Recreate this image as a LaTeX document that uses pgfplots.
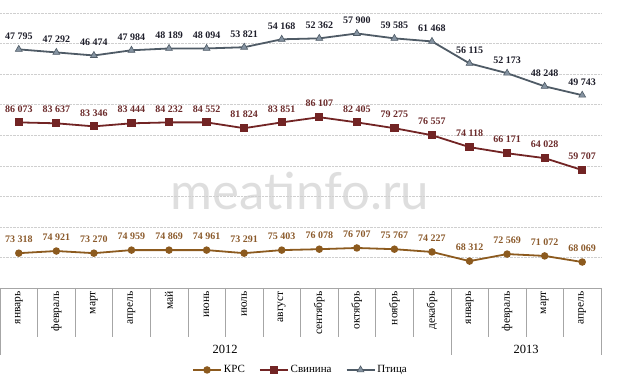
\documentclass[border=0pt]{standalone}
\usepackage{fontspec}
\setmainfont{Liberation Serif}
\newfontfamily\wmfont{Lato}
\usepackage{pgfplots}
\pgfplotsset{compat=1.18}
\definecolor{ptc}{HTML}{4F5B66}
\definecolor{ptm}{HTML}{8593A1}
\definecolor{ptl}{HTML}{1E1E2A}
\definecolor{svc}{HTML}{722424}
\definecolor{svl}{HTML}{6B2A2A}
\definecolor{krc}{HTML}{8C5A1E}
\definecolor{krl}{HTML}{8B5A2B}
\definecolor{gridc}{HTML}{CFCFCF}
\definecolor{sepc}{HTML}{A6A6A6}
\begin{document}
\begin{tikzpicture}[x=1pt,y=1pt]
\useasboundingbox (0,0) rectangle (621,387);
\node[text=black!13, font=\wmfont\fontsize{51}{51}\selectfont] at (300,196) {meatinfo.ru};
\begin{axis}[
  at={(0pt,99pt)}, anchor=south west,
  scale only axis, width=601pt, height=275pt,
  xmin=-0.5, xmax=15.5, ymin=0, ymax=90,
  clip=false,
  axis x line*=bottom, axis y line*=left,
  x axis line style={sepc},
  y axis line style={draw=none},
  xtick={0,...,15},
  xticklabels={январь,февраль,март,апрель,май,июнь,июль,август,сентябрь,октябрь,ноябрь,декабрь,январь,февраль,март,апрель},
  xtick style={draw=none},
  xticklabel style={yshift=-2pt, rotate=90, anchor=east, font=\fontsize{11.5}{13}\selectfont, inner sep=1pt},
  ytick={10,20,...,90}, yticklabels={}, ytick style={draw=none},
  ymajorgrids, grid style={densely dotted, gridc},
  nodes near coords, point meta=explicit symbolic,
  every node near coord/.append style={font=\bfseries\fontsize{10}{12}\selectfont, anchor=south, yshift=6pt},
  legend style={at={(0.5,-0.298)}, anchor=center, draw=none, legend columns=3,
    font=\fontsize{11}{12}\selectfont, inner sep=1pt,
    /tikz/every even column/.append style={column sep=12pt}},
  legend image code/.code={\draw[mark repeat=2,mark phase=2] plot coordinates {(0pt,0pt) (14pt,0pt) (28pt,0pt)};},
]
\addplot[krc, line width=1.8pt, mark=*, mark size=2.8pt, mark options={fill=krc, draw=krc},
  every node near coord/.append style={text=krl}]
  table[col sep=comma, row sep=\\, x=x, y=y, meta=lab] {
x,y,lab\\
0,11.4,73 318\\
1,12.1,74 921\\
2,11.4,73 270\\
3,12.4,74 959\\
4,12.4,74 869\\
5,12.4,74 961\\
6,11.4,73 291\\
7,12.4,75 403\\
8,12.7,76 078\\
9,13.1,76 707\\
10,12.7,75 767\\
11,11.8,74 227\\
12,8.8,68 312\\
13,11.1,72 569\\
14,10.5,71 072\\
15,8.5,68 069\\
};
\addlegendentry{КРС}
\addplot[svc, line width=1.8pt, mark=square*, mark size=3.2pt, mark options={fill=svc, draw=svc},
  every node near coord/.append style={text=svl}]
  table[col sep=comma, row sep=\\, x=x, y=y, meta=lab] {
x,y,lab\\
0,54.2,86 073\\
1,53.9,83 637\\
2,52.9,83 346\\
3,53.9,83 444\\
4,54.2,84 232\\
5,54.2,84 552\\
6,52.3,81 824\\
7,54.2,83 851\\
8,55.9,86 107\\
9,54.2,82 405\\
10,52.3,79 275\\
11,50.0,76 557\\
12,46.1,74 118\\
13,44.1,66 171\\
14,42.5,64 028\\
15,38.6,59 707\\
};
\addlegendentry{Свинина}
\addplot[ptc, line width=1.8pt, mark=triangle*, mark size=4pt, mark options={fill=ptm, draw=ptc, line width=0.6pt},
  every node near coord/.append style={text=ptl}]
  table[col sep=comma, row sep=\\, x=x, y=y, meta=lab] {
x,y,lab\\
0,78.1,47 795\\
1,77.1,47 292\\
2,76.1,46 474\\
3,77.8,47 984\\
4,78.4,48 189\\
5,78.4,48 094\\
6,78.8,53 821\\
7,81.4,54 168\\
8,81.7,52 362\\
9,83.3,57 900\\
10,81.7,59 585\\
11,80.7,61 468\\
12,73.5,56 115\\
13,70.3,52 173\\
14,66.0,48 248\\
15,63.1,49 743\\
};
\addlegendentry{Птица}
\end{axis}
\foreach \i in {0,...,16} \draw[sepc] ({\i*601/16},99) -- ({\i*601/16},50);
\foreach \i in {0,12,16} \draw[sepc] ({\i*601/16},50) -- ({\i*601/16},32);
\node[font=\fontsize{12.5}{14}\selectfont] at (225,38) {2012};
\node[font=\fontsize{12.5}{14}\selectfont] at (526,38) {2013};
\end{tikzpicture}
\end{document}
